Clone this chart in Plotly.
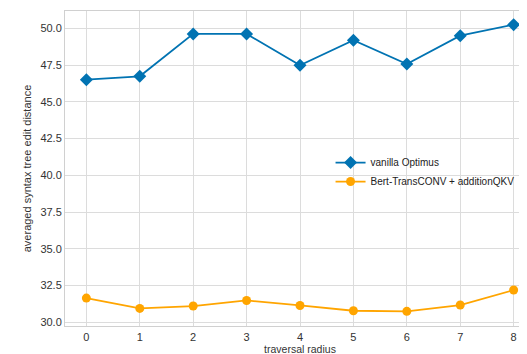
import plotly.graph_objects as go

radius = [0, 1, 2, 3, 4, 5, 6, 7, 8]
vanilla = [46.52, 46.75, 49.64, 49.64, 47.50, 49.21, 47.59, 49.52, 50.27]
bert_qkv = [31.63, 30.93, 31.09, 31.47, 31.13, 30.77, 30.73, 31.16, 32.18]
y_ticks = [30.0, 32.5, 35.0, 37.5, 40.0, 42.5, 45.0, 47.5, 50.0]

fig = go.Figure()
fig.add_trace(go.Scatter(
    x=radius, y=vanilla, mode="lines+markers", name="vanilla Optimus",
    line=dict(color="#0173B2", width=1.8),
    marker=dict(symbol="diamond", size=10, color="#0173B2"),
))
fig.add_trace(go.Scatter(
    x=radius, y=bert_qkv, mode="lines+markers", name="Bert-TransCONV + additionQKV",
    line=dict(color="#FFA500", width=1.8),
    marker=dict(symbol="circle", size=9, color="#FFA500"),
))

font = dict(family="Liberation Sans, Arial, sans-serif", size=11, color="#333333")
fig.update_layout(
    width=527, height=354,
    margin=dict(l=57, r=0, t=3, b=36),
    paper_bgcolor="white", plot_bgcolor="white",
    font=font,
    showlegend=True,
    legend=dict(x=0.565, y=0.565, xanchor="left", yanchor="top",
                bgcolor="rgba(0,0,0,0)", font=dict(size=10, color="#222222"),
                tracegroupgap=0, itemwidth=30),
    xaxis=dict(
        range=[-0.4, 8.4], tickvals=radius, ticktext=[str(r) for r in radius],
        showgrid=True, gridcolor="#dcdcdc", gridwidth=1,
        showline=True, linecolor="#d0d0d0", linewidth=1, mirror=True,
        zeroline=False, ticks="", ticklabelstandoff=1,
        title=dict(text="traversal radius", standoff=0, font=dict(size=10.5, color="#333333")),
    ),
    yaxis=dict(
        range=[29.73, 51.2], tickvals=y_ticks, ticktext=[f"{v:.1f}" for v in y_ticks],
        showgrid=True, gridcolor="#dcdcdc", gridwidth=1,
        showline=True, linecolor="#d0d0d0", linewidth=1, mirror=True,
        zeroline=False, ticks="",
        title=dict(text="averaged syntax tree edit distance", standoff=6, font=dict(size=11, color="#333333")),
    ),
)
fig.write_html("out.html")
